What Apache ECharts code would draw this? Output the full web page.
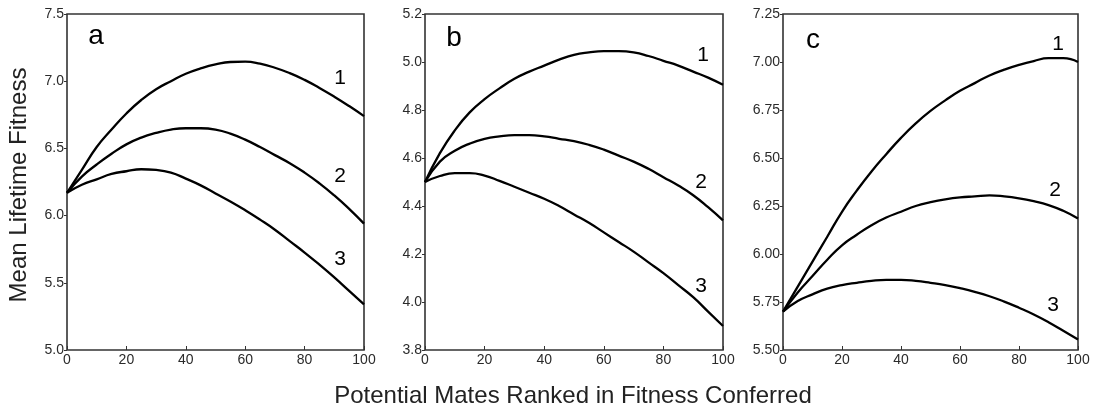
<!DOCTYPE html>
<html><head><meta charset="utf-8">
<script src="https://cdn.jsdelivr.net/npm/echarts@6/dist/echarts.min.js"></script>
<style>html,body{margin:0;padding:0;background:#fff}#c{width:1100px;height:411px}</style>
</head><body><div id="c"></div>
<script>
// x positions (potential mates ranked)
const xs = [0, 5, 10, 15, 20, 25, 30, 35, 40, 45, 50, 55, 60, 65, 70, 75, 80, 85, 90, 95, 100];
// Panel a
const a1 = [6.17, 6.34, 6.51, 6.64, 6.76, 6.86, 6.94, 7.00, 7.055, 7.095, 7.125, 7.143, 7.145, 7.13, 7.10, 7.06, 7.01, 6.95, 6.885, 6.815, 6.74];
const a2 = [6.17, 6.29, 6.38, 6.46, 6.53, 6.58, 6.615, 6.64, 6.65, 6.65, 6.64, 6.61, 6.565, 6.51, 6.45, 6.39, 6.32, 6.24, 6.15, 6.05, 5.94];
const a3 = [6.17, 6.23, 6.27, 6.31, 6.33, 6.345, 6.34, 6.32, 6.275, 6.225, 6.165, 6.105, 6.04, 5.97, 5.895, 5.81, 5.725, 5.635, 5.54, 5.44, 5.34];
// Panel b
const b1 = [4.50, 4.62, 4.715, 4.79, 4.845, 4.89, 4.93, 4.96, 4.985, 5.01, 5.03, 5.04, 5.045, 5.045, 5.04, 5.025, 5.005, 4.985, 4.96, 4.935, 4.905];
const b2 = [4.50, 4.585, 4.63, 4.66, 4.68, 4.69, 4.695, 4.695, 4.69, 4.68, 4.67, 4.655, 4.635, 4.61, 4.585, 4.555, 4.52, 4.485, 4.445, 4.395, 4.34];
const b3 = [4.50, 4.525, 4.537, 4.537, 4.527, 4.505, 4.48, 4.455, 4.43, 4.40, 4.365, 4.33, 4.29, 4.25, 4.21, 4.165, 4.12, 4.07, 4.02, 3.96, 3.90];
// Panel c
const c1 = [5.70, 5.83, 5.96, 6.09, 6.22, 6.33, 6.43, 6.52, 6.605, 6.68, 6.745, 6.80, 6.85, 6.89, 6.93, 6.96, 6.985, 7.005, 7.02, 7.02, 7.00];
const c2 = [5.70, 5.80, 5.885, 5.97, 6.045, 6.10, 6.15, 6.19, 6.22, 6.25, 6.27, 6.285, 6.295, 6.30, 6.305, 6.30, 6.29, 6.275, 6.255, 6.225, 6.185];
const c3 = [5.70, 5.755, 5.79, 5.82, 5.838, 5.85, 5.86, 5.865, 5.865, 5.86, 5.85, 5.838, 5.822, 5.803, 5.78, 5.752, 5.72, 5.685, 5.645, 5.60, 5.555];
// y axis ranges: [min, max, interval, decimals]
const yRanges = [[5.0, 7.5, 0.5, 1], [3.8, 5.2, 0.2, 1], [5.5, 7.25, 0.25, 2]];
const panelLetters = ['a', 'b', 'c'];
const curveNames = ['1', '2', '3'];
const xTitle = 'Potential Mates Ranked in Fitness Conferred';
const yTitle = 'Mean Lifetime Fitness';

const panels = [[a1, a2, a3], [b1, b2, b3], [c1, c2, c3]];
const FONT = 'Arial, "Liberation Sans", sans-serif';
const gridPos = [{left: 67, width: 297}, {left: 425, width: 298}, {left: 783, width: 295}];
const chart = echarts.init(document.getElementById('c'));
const grids = [], xAxes = [], yAxes = [], series = [];
gridPos.forEach((g, i) => {
  grids.push({left: g.left, width: g.width, top: 14, height: 336, show: true, borderColor: '#333', borderWidth: 1.6, backgroundColor: 'transparent'});
  xAxes.push({type: 'value', gridIndex: i, min: 0, max: 100, interval: 20,
    axisLine: {show: false}, axisTick: {show: true, inside: true, length: 4, lineStyle: {color: '#333'}},
    splitLine: {show: false}, axisLabel: {color: '#2a2a2a', fontSize: 14, fontFamily: FONT, margin: 3}});
  const r = yRanges[i];
  yAxes.push({type: 'value', gridIndex: i, min: r[0], max: r[1], interval: r[2],
    axisLine: {show: false}, axisTick: {show: true, length: 3, lineStyle: {color: '#333'}},
    splitLine: {show: false},
    axisLabel: {color: '#2a2a2a', fontSize: 14, fontFamily: FONT, margin: 3, formatter: v => v.toFixed(r[3])}});
  panels[i].forEach(arr => {
    series.push({type: 'line', xAxisIndex: i, yAxisIndex: i, smooth: true, symbol: 'none',
      lineStyle: {color: '#000', width: 2.3}, data: xs.map((x, k) => [x, arr[k]])});
  });
});
const letterPos = [[96, 36], [454, 38], [813, 40]];
const numPos = [
  [[340, 78], [340, 176], [340, 259]],
  [[703, 55], [701, 182], [701, 286]],
  [[1058, 44], [1055, 190], [1053, 305]]
];
const graphic = [];
letterPos.forEach((p, i) => graphic.push({type: 'text', x: p[0], y: p[1], style: {text: panelLetters[i], font: '28px ' + FONT, fill: '#000', align: 'center', verticalAlign: 'middle'}}));
numPos.forEach(ps => ps.forEach((p, k) => graphic.push({type: 'text', x: p[0], y: p[1], style: {text: curveNames[k], font: '21px ' + FONT, fill: '#000', align: 'center', verticalAlign: 'middle'}})));
graphic.push({type: 'text', x: 573, y: 396, style: {text: xTitle, font: '24px ' + FONT, fill: '#222', align: 'center', verticalAlign: 'middle'}});
graphic.push({type: 'text', x: 19, y: 185, rotation: Math.PI / 2,
  style: {text: yTitle, font: '24px ' + FONT, fill: '#222', align: 'center', verticalAlign: 'middle'}});
chart.setOption({animation: false, grid: grids, xAxis: xAxes, yAxis: yAxes, series: series, graphic: graphic});
</script></body></html>
